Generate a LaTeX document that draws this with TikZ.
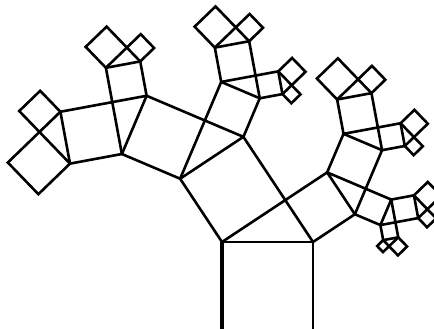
\documentclass[tikz,border=0pt]{standalone}
\usetikzlibrary{calc}
\tikzset{sq/.style={draw=black,line width=2.6pt,line join=miter}}
\pgfmathsetmacro\pyCos{cos(33.5)}
\pgfmathsetmacro\pySin{sin(33.5)}
\newcommand\pytree[5]{%
 \ifnum#5>0\relax
 \begingroup
 \pgfmathsetmacro\pyDx{#3-#1}%
 \pgfmathsetmacro\pyDy{#4-#2}%
 \pgfmathsetmacro\pyCx{#1+\pyCos*(\pyDx*\pyCos-\pyDy*\pySin)}%
 \pgfmathsetmacro\pyCy{#2+\pyCos*(\pyDx*\pySin+\pyDy*\pyCos)}%
 \pgfmathsetmacro\pyNx{-(\pyCy-#2)}%
 \pgfmathsetmacro\pyNy{\pyCx-#1}%
 \pgfmathsetmacro\pyAx{#1+\pyNx}\pgfmathsetmacro\pyAy{#2+\pyNy}%
 \pgfmathsetmacro\pyBx{\pyCx+\pyNx}\pgfmathsetmacro\pyBy{\pyCy+\pyNy}%
 \pgfmathsetmacro\pyMx{-(#4-\pyCy)}%
 \pgfmathsetmacro\pyMy{#3-\pyCx}%
 \pgfmathsetmacro\pyEx{\pyCx+\pyMx}\pgfmathsetmacro\pyEy{\pyCy+\pyMy}%
 \pgfmathsetmacro\pyFx{#3+\pyMx}\pgfmathsetmacro\pyFy{#4+\pyMy}%
 \draw[sq] (#1,#2) -- (\pyCx,\pyCy) -- (\pyBx,\pyBy) -- (\pyAx,\pyAy) -- cycle;
 \draw[sq] (\pyCx,\pyCy) -- (#3,#4) -- (\pyFx,\pyFy) -- (\pyEx,\pyEy) -- cycle;
 \pgfmathtruncatemacro\pyNd{#5-1}%
 \edef\pyNext{\noexpand\pytree{\pyAx}{\pyAy}{\pyBx}{\pyBy}{\pyNd}\noexpand\pytree{\pyEx}{\pyEy}{\pyFx}{\pyFy}{\pyNd}}%
 \pyNext
 \endgroup
 \fi}
\begin{document}
\begin{tikzpicture}[x=1pt,y=1pt]
\useasboundingbox (0,0) rectangle (434,329);
\fill[white] (0,0) rectangle (434,329);
\clip (0,0) rectangle (434,329);
\coordinate (A) at (222,87);
\coordinate (B) at (313,87);
\draw[sq] (A) -- (B) -- (313,-4) -- (222,-4) -- cycle;
\draw[line width=4pt] (A) -- (222,-4);
\pytree{222}{87}{313}{87}{4}
\end{tikzpicture}
\end{document}
